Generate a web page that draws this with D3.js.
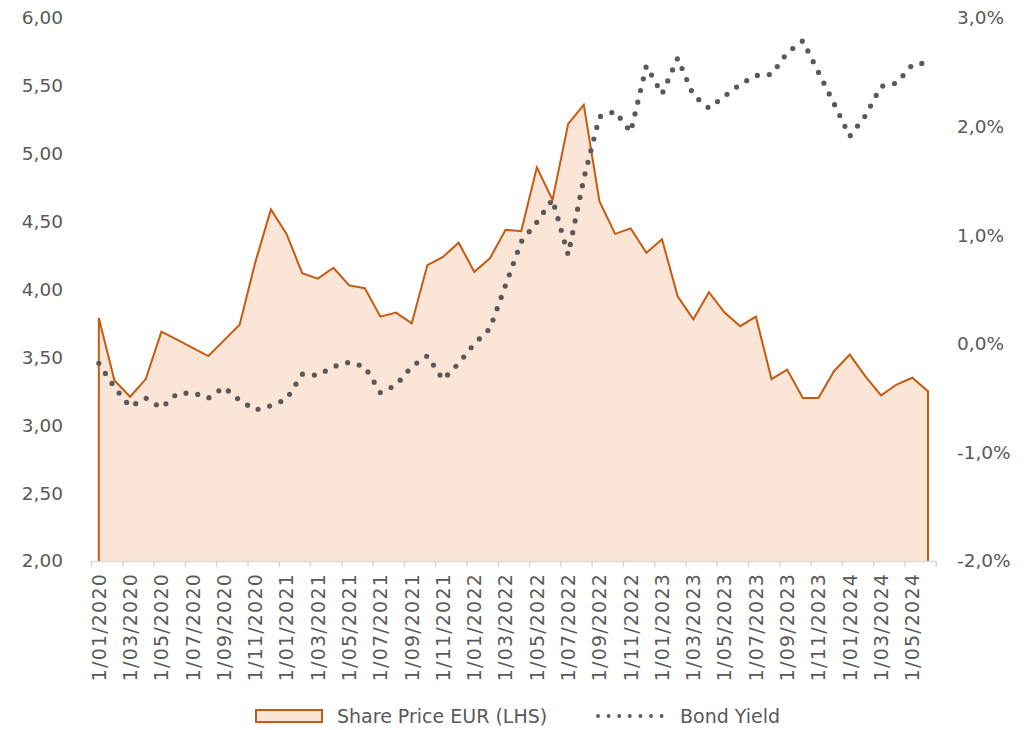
<!DOCTYPE html>
<html>
<head>
<meta charset="utf-8">
<script src="https://cdn.jsdelivr.net/npm/d3@7"></script>
<style>
  html, body { margin: 0; padding: 0; background: #fff; }
  svg { display: block; }
  text { font-family: "DejaVu Sans", sans-serif; fill: #595959; }
</style>
</head>
<body>
<svg id="chart" width="1031" height="730"></svg>
<script>
// ---------- DATA ----------
const months = [
  "1/01/2020","1/02/2020","1/03/2020","1/04/2020","1/05/2020","1/06/2020","1/07/2020","1/08/2020","1/09/2020","1/10/2020","1/11/2020","1/12/2020",
  "1/01/2021","1/02/2021","1/03/2021","1/04/2021","1/05/2021","1/06/2021","1/07/2021","1/08/2021","1/09/2021","1/10/2021","1/11/2021","1/12/2021",
  "1/01/2022","1/02/2022","1/03/2022","1/04/2022","1/05/2022","1/06/2022","1/07/2022","1/08/2022","1/09/2022","1/10/2022","1/11/2022","1/12/2022",
  "1/01/2023","1/02/2023","1/03/2023","1/04/2023","1/05/2023","1/06/2023","1/07/2023","1/08/2023","1/09/2023","1/10/2023","1/11/2023","1/12/2023",
  "1/01/2024","1/02/2024","1/03/2024","1/04/2024","1/05/2024","1/06/2024"
];

const sharePrice = [
  3.79, 3.33, 3.21, 3.34, 3.69, 3.63, 3.57, 3.51, 3.625, 3.74, 4.20, 4.59,
  4.41, 4.12, 4.08, 4.16, 4.03, 4.01, 3.80, 3.83, 3.75, 4.18, 4.24, 4.345,
  4.13, 4.23, 4.44, 4.43, 4.90, 4.66, 5.22, 5.36, 4.65, 4.41, 4.45, 4.27,
  4.37, 3.95, 3.78, 3.98, 3.83, 3.73, 3.80, 3.34, 3.41, 3.20, 3.20, 3.40,
  3.52, 3.36, 3.22, 3.30, 3.35, 3.25
];

const bondYield = [
  -0.18, -0.40, -0.58, -0.50, -0.59, -0.46, -0.45, -0.50, -0.40, -0.52, -0.61, -0.57,
  -0.51, -0.28, -0.29, -0.21, -0.17, -0.21, -0.45, -0.38, -0.21, -0.11, -0.33, -0.18,
   0.00,  0.14,  0.54,  0.94,  1.12,  1.33,  0.82,  1.52,  2.09,  2.14,  1.95,  2.56,
   2.30,  2.63,  2.29,  2.17,  2.28,  2.39,  2.47,  2.48,  2.68,  2.79,  2.50,  2.21,
   1.91,  2.10,  2.37,  2.40,  2.57,  2.59
];

const leftTicks = [2.0, 2.5, 3.0, 3.5, 4.0, 4.5, 5.0, 5.5, 6.0];
const rightTicks = [-2, -1, 0, 1, 2, 3];
const seriesNames = ["Share Price EUR (LHS)", "Bond Yield"];

// ---------- CHART ----------
const svg = d3.select("#chart");
const plot = { left: 91, right: 935.8, top: 18, bottom: 561 };
const orange = "#C55A11", peach = "#FBE5D6", dotGray = "#595959", axisGray = "#D9D9D9";
const FONT = "'DejaVu Sans', sans-serif";

const idx = d3.range(months.length);
const x = d3.scaleBand().domain(idx).range([plot.left, plot.right]).paddingInner(0).paddingOuter(0);
const cx = i => x(i) + x.bandwidth() / 2;
const xb = d3.scaleLinear().domain([0, months.length]).range([plot.left, plot.right]);
const yL = d3.scaleLinear().domain([2, 6]).range([plot.bottom, plot.top]);
const yR = d3.scaleLinear().domain([-2, 3]).range([plot.bottom, plot.top]);

// Area fill
const area = d3.area()
  .x((d, i) => cx(i))
  .y0(yL(2))
  .y1(d => yL(d));
svg.append("path")
  .datum(sharePrice)
  .attr("d", area)
  .attr("fill", peach)
  .attr("stroke", "none");

// Area outline (top + vertical sides)
const outlinePts = [[cx(0), yL(2)]]
  .concat(sharePrice.map((v, i) => [cx(i), yL(v)]))
  .concat([[cx(sharePrice.length - 1), yL(2)]]);
svg.append("path")
  .attr("d", d3.line()(outlinePts))
  .attr("fill", "none")
  .attr("stroke", orange)
  .attr("stroke-width", 2)
  .attr("stroke-linejoin", "miter");

// X axis line + ticks (between categories, every 2)
const xAxisG = svg.append("g").attr("transform", `translate(0,${plot.bottom})`);
xAxisG.call(d3.axisBottom(xb).tickValues(d3.range(0, months.length + 1, 2)).tickSize(6).tickFormat("").tickSizeOuter(0));
xAxisG.select(".domain").attr("stroke", axisGray).attr("stroke-width", 1.5);
xAxisG.selectAll(".tick line").attr("stroke", axisGray).attr("stroke-width", 1.5);

// X tick labels (rotated)
const xLab = svg.append("g").attr("transform", `translate(0,${plot.bottom})`);
xLab.call(d3.axisBottom(x).tickValues(idx.filter(i => i % 2 === 0)).tickSize(0).tickPadding(0).tickFormat(i => months[i]));
xLab.select(".domain").remove();
xLab.selectAll(".tick text")
  .attr("transform", "rotate(-90)")
  .attr("text-anchor", "end")
  .attr("x", -12)
  .attr("y", 0)
  .attr("dy", "0.36em")
  .style("font-size", "19px")
  .style("letter-spacing", "1.2px")
  .style("fill", "#595959")
  .style("font-family", FONT);

// Left axis
const fmtL = d => d.toFixed(2).replace(".", ",");
const yLG = svg.append("g").attr("transform", `translate(71,0)`);
yLG.call(d3.axisLeft(yL).tickValues(leftTicks).tickSize(0).tickPadding(8).tickFormat(fmtL));
yLG.select(".domain").remove();
yLG.selectAll(".tick text").style("font-size", "18.5px").style("fill", "#595959").style("font-family", FONT);

// Right axis
const fmtR = d => d.toFixed(1).replace(".", ",") + "%";
const yRG = svg.append("g").attr("transform", `translate(949,0)`);
yRG.call(d3.axisRight(yR).tickValues(rightTicks).tickSize(0).tickPadding(8).tickFormat(fmtR));
yRG.select(".domain").remove();
yRG.selectAll(".tick text").style("font-size", "18.5px").style("fill", "#595959").style("font-family", FONT);

// Bond yield dotted line
svg.append("path")
  .datum(bondYield)
  .attr("d", d3.line().x((d, i) => cx(i)).y(d => yR(d)))
  .attr("fill", "none")
  .attr("stroke", dotGray)
  .attr("stroke-width", 5.2)
  .attr("stroke-linecap", "round")
  .attr("stroke-dasharray", "0 12");

// Legend
const lg = svg.append("g");
lg.append("rect")
  .attr("x", 256).attr("y", 710).attr("width", 66).attr("height", 12)
  .attr("fill", peach).attr("stroke", orange).attr("stroke-width", 2);
lg.append("text").attr("x", 337).attr("y", 716).attr("dy", "0.36em")
  .style("font-size", "19px").style("font-family", FONT).text(seriesNames[0]);
lg.append("line")
  .attr("x1", 598).attr("x2", 662).attr("y1", 716).attr("y2", 716)
  .attr("stroke", dotGray).attr("stroke-width", 3.8)
  .attr("stroke-linecap", "round").attr("stroke-dasharray", "0 10.6");
lg.append("text").attr("x", 680).attr("y", 716).attr("dy", "0.36em")
  .style("font-size", "19px").style("font-family", FONT).text(seriesNames[1]);
</script>
</body>
</html>
